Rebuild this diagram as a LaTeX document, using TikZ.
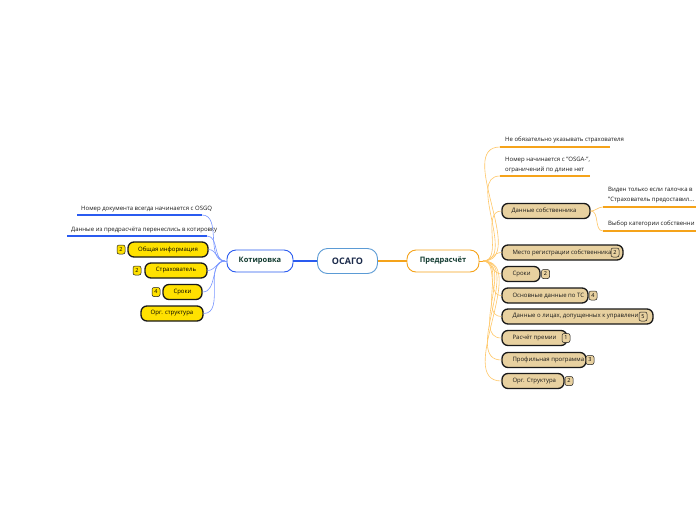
\documentclass[tikz,border=0pt]{standalone}
\usepackage{fontspec}
\setmainfont{Open Sans}
\definecolor{blueA}{HTML}{2A5BF0}
\definecolor{blueL}{HTML}{7A97FF}
\definecolor{orA}{HTML}{F5A31A}
\definecolor{orL}{HTML}{FFC766}
\definecolor{rootB}{HTML}{5B9BD5}
\definecolor{navy}{HTML}{1B2A4A}
\definecolor{dgreen}{HTML}{123B30}
\definecolor{yel}{HTML}{FFE100}
\definecolor{tan}{HTML}{E8D1A0}
\definecolor{ink}{HTML}{1A1A1A}
\tikzset{
  root/.style={draw=rootB, line width=0.9pt, fill=white, rounded corners=10pt,
    minimum width=60pt, minimum height=25pt, inner sep=0pt,
    font=\fontsize{9}{10}\selectfont\bfseries, text=navy},
  mainbox/.style={line width=0.9pt, fill=white, rounded corners=9pt,
    minimum height=22pt, inner sep=0pt, font=\fontsize{7.5}{9}\selectfont\bfseries, text=dgreen},
  ybox/.style={draw=ink, line width=1.3pt, fill=yel, rounded corners=6pt,
    minimum height=15pt, inner sep=0pt, font=\fontsize{6}{7}\selectfont},
  tbox/.style={draw=ink, line width=1.3pt, fill=tan, rounded corners=6pt,
    minimum height=15pt, inner sep=0pt},
  lbl/.style={font=\fontsize{6}{7}\selectfont, inner sep=0pt, text=ink},
  txt/.style={font=\fontsize{6}{10}\selectfont, inner sep=0pt, text=ink, align=left},
  badge/.style={draw=ink, line width=0.5pt, rounded corners=2pt, minimum width=8pt,
    minimum height=9pt, inner sep=0pt, font=\fontsize{5.5}{6}\selectfont},
  bline/.style={draw=blueL, line width=0.6pt},
  oline/.style={draw=orL, line width=0.6pt},
  bul/.style={draw=blueA, line width=1.5pt},
  oul/.style={draw=orA, line width=1.5pt},
}
\begin{document}
\begin{tikzpicture}[x=1pt,y=-1pt]
\useasboundingbox (0,0) rectangle (696,520);
\clip (0,0) rectangle (696,520);
\fill[white] (0,0) rectangle (696,520);

% main nodes
\node[root] (root) at (347.5,261) {ОСАГО};
\node[mainbox, draw=blueA, minimum width=66pt] (kot) at (260,261) {Котировка};
\node[mainbox, draw=orA, minimum width=72pt] (pre) at (443,261) {Предрасчёт};
\draw[draw=blueA, line width=1.2pt] (root.west) -- (kot.east);
\draw[draw=orA, line width=1.2pt] (root.east) -- (pre.west);

% ---------- left side ----------
\coordinate (l1a) at (77,215); \coordinate (l1b) at (202,215);
\node[lbl, anchor=base west] (l1t) at (81,210) {Номер документа всегда начинается с OSGQ};
\coordinate (l2a) at (67,236); \coordinate (l2b) at (207,236);
\node[lbl, anchor=base west] (l2t) at (71,231) {Данные из предрасчёта перенеслись в котировку};

\node[ybox, minimum width=80pt] (ly1) at (168,249.5) {Общая информация};
\node[ybox, minimum width=62pt] (ly2) at (176,270.5) {Страхователь};
\node[ybox, minimum width=39pt] (ly3) at (182.5,292) {Сроки};
\node[ybox, minimum width=62pt] (ly4) at (172,313.5) {Орг. структура};
\node[badge, fill=yel] (lb1) at (121,249.5) {2};
\node[badge, fill=yel] (lb2) at (137,270.5) {2};
\node[badge, fill=yel] (lb3) at (156,292) {4};

\coordinate (khub) at (225,261);
\draw[bline] (kot.west) -- (khub);
\foreach \t in {l1b,l2b,ly1.east,ly2.east,ly3.east,ly4.east}
  \draw[bline] (khub) to[out=180,in=0] (\t);
\draw[bul] (l1a) -- (l1b);
\draw[bul] (l2a) -- (l2b);

% ---------- right side ----------
\coordinate (r1a) at (500,147); \coordinate (r1b) at (610,147);
\node[lbl, anchor=base west] (r1t) at (505,141) {Не обязательно указывать страхователя};
\coordinate (r2a) at (500,176); \coordinate (r2b) at (590,176);
\node[txt, anchor=south west] (r2t) at (505,173) {Номер начинается с "OSGA-",\\ограничений по длине нет};

\node[tbox, minimum width=88pt] (rs) at (546,211) {};
\node[lbl, anchor=west] (rst) at ([xshift=10pt]rs.west) {Данные собственника};
\coordinate (s1a) at (603,207); \coordinate (s1b) at (700,207);
\node[txt, anchor=south west] (s1t) at (608,203) {Виден только если галочка в\\"Страхователь предоставил...};
\coordinate (s2a) at (603,231); \coordinate (s2b) at (700,231);
\node[lbl, anchor=base west] (s2t) at (608,225) {Выбор категории собственни};

\node[tbox, minimum width=121pt] (b1) at (562.5,252.5) {};
\node[tbox, minimum width=38pt] (b2) at (521,274) {};
\node[tbox, minimum width=86pt] (b3) at (545,295.5) {};
\node[tbox, minimum width=151pt] (b4) at (577.5,316.5) {};
\node[tbox, minimum width=65pt] (b5) at (534.5,338) {};
\node[tbox, minimum width=84pt] (b6) at (544,360) {};
\node[tbox, minimum width=62pt] (b7) at (533,381) {};
\node[lbl, anchor=west] (b1t) at ([xshift=11pt]b1.west) {Место регистрации собственника};
\node[lbl, anchor=west] (b2t) at ([xshift=11pt]b2.west) {Сроки};
\node[lbl, anchor=west] (b3t) at ([xshift=11pt]b3.west) {Основные данные по ТС};
\node[lbl, anchor=west] (b4t) at ([xshift=11pt]b4.west) {Данные о лицах, допущенных к управлени};
\node[lbl, anchor=west] (b5t) at ([xshift=11pt]b5.west) {Расчёт премии};
\node[lbl, anchor=west] (b6t) at ([xshift=11pt]b6.west) {Профильная программа};
\node[lbl, anchor=west] (b7t) at ([xshift=11pt]b7.west) {Орг. Структура};
\node[badge, fill=tan] (bb1) at (615,252.5) {2};
\node[badge, fill=tan] (bb2) at (545.5,274) {2};
\node[badge, fill=tan] (bb3) at (593,295.5) {4};
\node[badge, fill=tan] (bb4) at (643,316.5) {5};
\node[badge, fill=tan] (bb5) at (566,338) {1};
\node[badge, fill=tan] (bb6) at (590,360) {3};
\node[badge, fill=tan] (bb7) at (569,381) {2};

\coordinate (phub) at (483,261);
\draw[draw=orA, line width=1pt] (pre.east) -- (phub);
\foreach \t in {r1a,r2a,rs.west,b1.west,b2.west,b3.west,b4.west,b5.west,b6.west,b7.west}
  \draw[oline] (phub) to[out=0,in=180] (\t);
\draw[oul] (r1a) -- (r1b);
\draw[oul] (r2a) -- (r2b);

\foreach \t in {s1a,s2a}
  \draw[oline] (rs.east) to[out=0,in=180] (\t);
\draw[oul] (s1a) -- (s1b);
\draw[oul] (s2a) -- (s2b);
\end{tikzpicture}
\end{document}
